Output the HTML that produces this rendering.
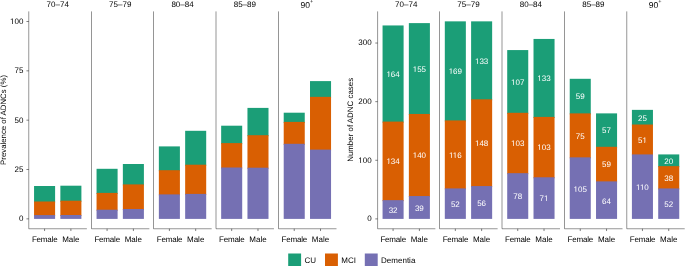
<!DOCTYPE html>
<html><head><meta charset="utf-8"><title>ADNC prevalence and cases by age and sex</title><style>
html,body{margin:0;padding:0;background:#fff;}
body{width:685px;height:267px;overflow:hidden;}
svg{display:block;font-family:"Liberation Sans",sans-serif;will-change:transform;text-rendering:geometricPrecision;}
</style></head><body>
<svg width="685" height="267" viewBox="0 0 685 267">
<rect width="685" height="267" fill="#fff"/>
<line x1="26.45" y1="218.85" x2="28.75" y2="218.85" stroke="#000" stroke-width="0.5"/>
<text x="23.45" y="221.25" text-anchor="end" fill="#000" font-size="8.0">0</text>
<line x1="26.45" y1="169.51" x2="28.75" y2="169.51" stroke="#000" stroke-width="0.5"/>
<text x="23.45" y="171.91" text-anchor="end" fill="#000" font-size="8.0">25</text>
<line x1="26.45" y1="120.17" x2="28.75" y2="120.17" stroke="#000" stroke-width="0.5"/>
<text x="23.45" y="122.58" text-anchor="end" fill="#000" font-size="8.0">50</text>
<line x1="26.45" y1="70.84" x2="28.75" y2="70.84" stroke="#000" stroke-width="0.5"/>
<text x="23.45" y="73.24" text-anchor="end" fill="#000" font-size="8.0">75</text>
<line x1="26.45" y1="21.50" x2="28.75" y2="21.50" stroke="#000" stroke-width="0.5"/>
<text x="23.45" y="23.90" text-anchor="end" fill="#000" font-size="8.0">100</text>
<text x="0" y="0" transform="translate(5.90,119.95) rotate(-90)" text-anchor="middle" fill="#000" font-size="7.82">Prevalence of ADNCs (%)</text>
<rect x="34.06" y="186.00" width="21.04" height="16.50" fill="#1B9E77"/>
<rect x="34.06" y="201.50" width="21.04" height="14.60" fill="#D95F02"/>
<rect x="34.06" y="215.10" width="21.04" height="3.80" fill="#7570B3"/>
<rect x="60.36" y="185.70" width="21.04" height="16.00" fill="#1B9E77"/>
<rect x="60.36" y="200.70" width="21.04" height="15.30" fill="#D95F02"/>
<rect x="60.36" y="215.00" width="21.04" height="3.90" fill="#7570B3"/>
<line x1="28.75" y1="11.40" x2="28.75" y2="228.75" stroke="#000" stroke-width="0.42"/>
<line x1="28.75" y1="228.75" x2="86.86" y2="228.75" stroke="#000" stroke-width="0.42"/>
<line x1="44.58" y1="228.75" x2="44.58" y2="231.05" stroke="#000" stroke-width="0.5"/>
<text x="44.68" y="241.60" text-anchor="middle" fill="#000" font-size="8.0" letter-spacing="-0.2">Female</text>
<line x1="70.88" y1="228.75" x2="70.88" y2="231.05" stroke="#000" stroke-width="0.5"/>
<text x="70.88" y="241.60" text-anchor="middle" fill="#000" font-size="8.0">Male</text>
<text x="57.73" y="7.40" text-anchor="middle" fill="#000" font-size="8.0">70–74</text>
<rect x="96.56" y="168.80" width="21.04" height="25.10" fill="#1B9E77"/>
<rect x="96.56" y="192.90" width="21.04" height="17.80" fill="#D95F02"/>
<rect x="96.56" y="209.70" width="21.04" height="9.20" fill="#7570B3"/>
<rect x="122.86" y="164.00" width="21.04" height="21.40" fill="#1B9E77"/>
<rect x="122.86" y="184.40" width="21.04" height="25.60" fill="#D95F02"/>
<rect x="122.86" y="209.00" width="21.04" height="9.90" fill="#7570B3"/>
<line x1="91.50" y1="11.40" x2="91.50" y2="228.75" stroke="#000" stroke-width="0.42"/>
<line x1="91.50" y1="228.75" x2="149.36" y2="228.75" stroke="#000" stroke-width="0.42"/>
<line x1="107.08" y1="228.75" x2="107.08" y2="231.05" stroke="#000" stroke-width="0.5"/>
<text x="107.18" y="241.60" text-anchor="middle" fill="#000" font-size="8.0" letter-spacing="-0.2">Female</text>
<line x1="133.38" y1="228.75" x2="133.38" y2="231.05" stroke="#000" stroke-width="0.5"/>
<text x="133.38" y="241.60" text-anchor="middle" fill="#000" font-size="8.0">Male</text>
<text x="120.23" y="7.40" text-anchor="middle" fill="#000" font-size="8.0">75–79</text>
<rect x="158.86" y="146.40" width="21.04" height="24.80" fill="#1B9E77"/>
<rect x="158.86" y="170.20" width="21.04" height="25.20" fill="#D95F02"/>
<rect x="158.86" y="194.40" width="21.04" height="24.50" fill="#7570B3"/>
<rect x="185.16" y="130.80" width="21.04" height="34.90" fill="#1B9E77"/>
<rect x="185.16" y="164.70" width="21.04" height="30.20" fill="#D95F02"/>
<rect x="185.16" y="193.90" width="21.04" height="25.00" fill="#7570B3"/>
<line x1="153.50" y1="11.40" x2="153.50" y2="228.75" stroke="#000" stroke-width="0.42"/>
<line x1="153.50" y1="228.75" x2="211.66" y2="228.75" stroke="#000" stroke-width="0.42"/>
<line x1="169.38" y1="228.75" x2="169.38" y2="231.05" stroke="#000" stroke-width="0.5"/>
<text x="169.48" y="241.60" text-anchor="middle" fill="#000" font-size="8.0" letter-spacing="-0.2">Female</text>
<line x1="195.68" y1="228.75" x2="195.68" y2="231.05" stroke="#000" stroke-width="0.5"/>
<text x="195.68" y="241.60" text-anchor="middle" fill="#000" font-size="8.0">Male</text>
<text x="182.53" y="7.40" text-anchor="middle" fill="#000" font-size="8.0">80–84</text>
<rect x="221.16" y="125.70" width="21.04" height="18.40" fill="#1B9E77"/>
<rect x="221.16" y="143.10" width="21.04" height="25.40" fill="#D95F02"/>
<rect x="221.16" y="167.50" width="21.04" height="51.40" fill="#7570B3"/>
<rect x="247.46" y="107.90" width="21.04" height="28.30" fill="#1B9E77"/>
<rect x="247.46" y="135.20" width="21.04" height="33.50" fill="#D95F02"/>
<rect x="247.46" y="167.70" width="21.04" height="51.20" fill="#7570B3"/>
<line x1="216.00" y1="11.40" x2="216.00" y2="228.75" stroke="#000" stroke-width="0.42"/>
<line x1="216.00" y1="228.75" x2="273.96" y2="228.75" stroke="#000" stroke-width="0.42"/>
<line x1="231.68" y1="228.75" x2="231.68" y2="231.05" stroke="#000" stroke-width="0.5"/>
<text x="231.78" y="241.60" text-anchor="middle" fill="#000" font-size="8.0" letter-spacing="-0.2">Female</text>
<line x1="257.98" y1="228.75" x2="257.98" y2="231.05" stroke="#000" stroke-width="0.5"/>
<text x="257.98" y="241.60" text-anchor="middle" fill="#000" font-size="8.0">Male</text>
<text x="244.83" y="7.40" text-anchor="middle" fill="#000" font-size="8.0">85–89</text>
<rect x="283.71" y="112.70" width="21.04" height="10.20" fill="#1B9E77"/>
<rect x="283.71" y="121.90" width="21.04" height="22.90" fill="#D95F02"/>
<rect x="283.71" y="143.80" width="21.04" height="75.10" fill="#7570B3"/>
<rect x="310.01" y="81.10" width="21.04" height="16.75" fill="#1B9E77"/>
<rect x="310.01" y="96.85" width="21.04" height="53.75" fill="#D95F02"/>
<rect x="310.01" y="149.60" width="21.04" height="69.30" fill="#7570B3"/>
<line x1="278.50" y1="11.40" x2="278.50" y2="228.75" stroke="#000" stroke-width="0.42"/>
<line x1="278.50" y1="228.75" x2="336.51" y2="228.75" stroke="#000" stroke-width="0.42"/>
<line x1="294.23" y1="228.75" x2="294.23" y2="231.05" stroke="#000" stroke-width="0.5"/>
<text x="294.33" y="241.60" text-anchor="middle" fill="#000" font-size="8.0" letter-spacing="-0.2">Female</text>
<line x1="320.53" y1="228.75" x2="320.53" y2="231.05" stroke="#000" stroke-width="0.5"/>
<text x="320.53" y="241.60" text-anchor="middle" fill="#000" font-size="8.0">Male</text>
<text x="300.48" y="7.60" fill="#000" font-size="8.5">90</text>
<text x="309.98" y="3.00" fill="#000" font-size="5.6">+</text>
<line x1="375.30" y1="218.90" x2="377.60" y2="218.90" stroke="#000" stroke-width="0.5"/>
<text x="371.70" y="221.30" text-anchor="end" fill="#000" font-size="8.0">0</text>
<line x1="375.30" y1="160.28" x2="377.60" y2="160.28" stroke="#000" stroke-width="0.5"/>
<text x="371.70" y="162.68" text-anchor="end" fill="#000" font-size="8.0">100</text>
<line x1="375.30" y1="101.66" x2="377.60" y2="101.66" stroke="#000" stroke-width="0.5"/>
<text x="371.70" y="104.06" text-anchor="end" fill="#000" font-size="8.0">200</text>
<line x1="375.30" y1="43.04" x2="377.60" y2="43.04" stroke="#000" stroke-width="0.5"/>
<text x="371.70" y="45.44" text-anchor="end" fill="#000" font-size="8.0">300</text>
<text x="0" y="0" transform="translate(352.60,119.85) rotate(-90)" text-anchor="middle" fill="#000" font-size="7.92">Number of ADNC cases</text>
<rect x="382.56" y="25.45" width="21.04" height="97.14" fill="#1B9E77"/>
<rect x="382.56" y="121.59" width="21.04" height="79.55" fill="#D95F02"/>
<rect x="382.56" y="200.14" width="21.04" height="18.76" fill="#7570B3"/>
<rect x="408.86" y="23.11" width="21.04" height="91.86" fill="#1B9E77"/>
<rect x="408.86" y="113.97" width="21.04" height="83.07" fill="#D95F02"/>
<rect x="408.86" y="196.04" width="21.04" height="22.86" fill="#7570B3"/>
<line x1="377.60" y1="11.40" x2="377.60" y2="228.75" stroke="#000" stroke-width="0.42"/>
<line x1="377.60" y1="228.75" x2="435.36" y2="228.75" stroke="#000" stroke-width="0.42"/>
<line x1="393.08" y1="228.75" x2="393.08" y2="231.05" stroke="#000" stroke-width="0.5"/>
<text x="393.18" y="241.60" text-anchor="middle" fill="#000" font-size="8.0" letter-spacing="-0.2">Female</text>
<line x1="419.38" y1="228.75" x2="419.38" y2="231.05" stroke="#000" stroke-width="0.5"/>
<text x="419.38" y="241.60" text-anchor="middle" fill="#000" font-size="8.0">Male</text>
<text x="406.23" y="7.40" text-anchor="middle" fill="#000" font-size="8.0">70–74</text>
<rect x="444.81" y="21.35" width="21.04" height="100.07" fill="#1B9E77"/>
<rect x="444.81" y="120.42" width="21.04" height="69.00" fill="#D95F02"/>
<rect x="444.81" y="188.42" width="21.04" height="30.48" fill="#7570B3"/>
<rect x="471.11" y="21.35" width="21.04" height="78.96" fill="#1B9E77"/>
<rect x="471.11" y="99.32" width="21.04" height="87.76" fill="#D95F02"/>
<rect x="471.11" y="186.07" width="21.04" height="32.83" fill="#7570B3"/>
<line x1="439.50" y1="11.40" x2="439.50" y2="228.75" stroke="#000" stroke-width="0.42"/>
<line x1="439.50" y1="228.75" x2="497.61" y2="228.75" stroke="#000" stroke-width="0.42"/>
<line x1="455.33" y1="228.75" x2="455.33" y2="231.05" stroke="#000" stroke-width="0.5"/>
<text x="455.43" y="241.60" text-anchor="middle" fill="#000" font-size="8.0" letter-spacing="-0.2">Female</text>
<line x1="481.63" y1="228.75" x2="481.63" y2="231.05" stroke="#000" stroke-width="0.5"/>
<text x="481.63" y="241.60" text-anchor="middle" fill="#000" font-size="8.0">Male</text>
<text x="468.48" y="7.40" text-anchor="middle" fill="#000" font-size="8.0">75–79</text>
<rect x="507.21" y="50.07" width="21.04" height="63.72" fill="#1B9E77"/>
<rect x="507.21" y="112.80" width="21.04" height="61.38" fill="#D95F02"/>
<rect x="507.21" y="173.18" width="21.04" height="45.72" fill="#7570B3"/>
<rect x="533.51" y="38.94" width="21.04" height="78.96" fill="#1B9E77"/>
<rect x="533.51" y="116.90" width="21.04" height="61.38" fill="#D95F02"/>
<rect x="533.51" y="177.28" width="21.04" height="41.62" fill="#7570B3"/>
<line x1="502.00" y1="11.40" x2="502.00" y2="228.75" stroke="#000" stroke-width="0.42"/>
<line x1="502.00" y1="228.75" x2="560.01" y2="228.75" stroke="#000" stroke-width="0.42"/>
<line x1="517.73" y1="228.75" x2="517.73" y2="231.05" stroke="#000" stroke-width="0.5"/>
<text x="517.83" y="241.60" text-anchor="middle" fill="#000" font-size="8.0" letter-spacing="-0.2">Female</text>
<line x1="544.03" y1="228.75" x2="544.03" y2="231.05" stroke="#000" stroke-width="0.5"/>
<text x="544.03" y="241.60" text-anchor="middle" fill="#000" font-size="8.0">Male</text>
<text x="530.88" y="7.40" text-anchor="middle" fill="#000" font-size="8.0">80–84</text>
<rect x="569.73" y="78.80" width="21.04" height="35.59" fill="#1B9E77"/>
<rect x="569.73" y="113.38" width="21.04" height="44.96" fill="#D95F02"/>
<rect x="569.73" y="157.35" width="21.04" height="61.55" fill="#7570B3"/>
<rect x="596.03" y="113.38" width="21.04" height="34.41" fill="#1B9E77"/>
<rect x="596.03" y="146.80" width="21.04" height="35.59" fill="#D95F02"/>
<rect x="596.03" y="181.38" width="21.04" height="37.52" fill="#7570B3"/>
<line x1="564.50" y1="11.40" x2="564.50" y2="228.75" stroke="#000" stroke-width="0.42"/>
<line x1="564.50" y1="228.75" x2="622.53" y2="228.75" stroke="#000" stroke-width="0.42"/>
<line x1="580.25" y1="228.75" x2="580.25" y2="231.05" stroke="#000" stroke-width="0.5"/>
<text x="580.35" y="241.60" text-anchor="middle" fill="#000" font-size="8.0" letter-spacing="-0.2">Female</text>
<line x1="606.55" y1="228.75" x2="606.55" y2="231.05" stroke="#000" stroke-width="0.5"/>
<text x="606.55" y="241.60" text-anchor="middle" fill="#000" font-size="8.0">Male</text>
<text x="593.40" y="7.40" text-anchor="middle" fill="#000" font-size="8.0">85–89</text>
<rect x="631.91" y="109.87" width="21.04" height="15.66" fill="#1B9E77"/>
<rect x="631.91" y="124.52" width="21.04" height="30.90" fill="#D95F02"/>
<rect x="631.91" y="154.42" width="21.04" height="64.48" fill="#7570B3"/>
<rect x="658.21" y="154.42" width="21.04" height="12.72" fill="#1B9E77"/>
<rect x="658.21" y="166.14" width="21.04" height="23.28" fill="#D95F02"/>
<rect x="658.21" y="188.42" width="21.04" height="30.48" fill="#7570B3"/>
<line x1="626.75" y1="11.40" x2="626.75" y2="228.75" stroke="#000" stroke-width="0.42"/>
<line x1="626.75" y1="228.75" x2="684.71" y2="228.75" stroke="#000" stroke-width="0.42"/>
<line x1="642.43" y1="228.75" x2="642.43" y2="231.05" stroke="#000" stroke-width="0.5"/>
<text x="642.53" y="241.60" text-anchor="middle" fill="#000" font-size="8.0" letter-spacing="-0.2">Female</text>
<line x1="668.73" y1="228.75" x2="668.73" y2="231.05" stroke="#000" stroke-width="0.5"/>
<text x="668.73" y="241.60" text-anchor="middle" fill="#000" font-size="8.0">Male</text>
<text x="648.68" y="7.60" fill="#000" font-size="8.5">90</text>
<text x="658.18" y="3.00" fill="#000" font-size="5.6">+</text>
<text x="393.08" y="212.92" text-anchor="middle" fill="#fff" font-size="8.0">32</text>
<text x="393.08" y="164.27" text-anchor="middle" fill="#fff" font-size="8.0">134</text>
<text x="393.08" y="76.92" text-anchor="middle" fill="#fff" font-size="8.0">164</text>
<text x="419.38" y="210.87" text-anchor="middle" fill="#fff" font-size="8.0">39</text>
<text x="419.38" y="158.40" text-anchor="middle" fill="#fff" font-size="8.0">140</text>
<text x="419.38" y="71.94" text-anchor="middle" fill="#fff" font-size="8.0">155</text>
<text x="455.33" y="207.06" text-anchor="middle" fill="#fff" font-size="8.0">52</text>
<text x="455.33" y="157.82" text-anchor="middle" fill="#fff" font-size="8.0">116</text>
<text x="455.33" y="74.28" text-anchor="middle" fill="#fff" font-size="8.0">169</text>
<text x="481.63" y="205.89" text-anchor="middle" fill="#fff" font-size="8.0">56</text>
<text x="481.63" y="146.09" text-anchor="middle" fill="#fff" font-size="8.0">148</text>
<text x="481.63" y="63.73" text-anchor="middle" fill="#fff" font-size="8.0">133</text>
<text x="517.73" y="199.44" text-anchor="middle" fill="#fff" font-size="8.0">78</text>
<text x="517.73" y="146.39" text-anchor="middle" fill="#fff" font-size="8.0">103</text>
<text x="517.73" y="84.84" text-anchor="middle" fill="#fff" font-size="8.0">107</text>
<text x="544.03" y="201.49" text-anchor="middle" fill="#fff" font-size="8.0">71</text>
<text x="544.03" y="150.49" text-anchor="middle" fill="#fff" font-size="8.0">103</text>
<text x="544.03" y="81.32" text-anchor="middle" fill="#fff" font-size="8.0">133</text>
<text x="580.25" y="191.52" text-anchor="middle" fill="#fff" font-size="8.0">105</text>
<text x="580.25" y="138.77" text-anchor="middle" fill="#fff" font-size="8.0">75</text>
<text x="580.25" y="99.49" text-anchor="middle" fill="#fff" font-size="8.0">59</text>
<text x="606.55" y="203.54" text-anchor="middle" fill="#fff" font-size="8.0">64</text>
<text x="606.55" y="167.49" text-anchor="middle" fill="#fff" font-size="8.0">59</text>
<text x="606.55" y="133.49" text-anchor="middle" fill="#fff" font-size="8.0">57</text>
<text x="642.43" y="190.06" text-anchor="middle" fill="#fff" font-size="8.0">110</text>
<text x="642.43" y="142.87" text-anchor="middle" fill="#fff" font-size="8.0">51</text>
<text x="642.43" y="120.59" text-anchor="middle" fill="#fff" font-size="8.0">25</text>
<text x="668.73" y="207.06" text-anchor="middle" fill="#fff" font-size="8.0">52</text>
<text x="668.73" y="180.68" text-anchor="middle" fill="#fff" font-size="8.0">38</text>
<text x="668.73" y="163.68" text-anchor="middle" fill="#fff" font-size="8.0">20</text>
<rect x="288.20" y="253.50" width="12.90" height="12.50" fill="#1B9E77"/>
<text x="304.50" y="262.60" fill="#000" font-size="8.0">CU</text>
<rect x="325.00" y="253.50" width="12.90" height="12.50" fill="#D95F02"/>
<text x="341.30" y="262.60" fill="#000" font-size="8.0">MCI</text>
<rect x="364.80" y="253.50" width="12.90" height="12.50" fill="#7570B3"/>
<text x="381.10" y="262.60" fill="#000" font-size="8.0">Dementia</text>
<g><rect x="10.177" y="23" width="4.346" height="1" fill="#fff"/><rect x="12.102" y="23" width="0.707" height="1" fill="#000"/><rect x="358.427" y="162" width="4.346" height="1" fill="#fff"/><rect x="360.352" y="162" width="0.707" height="1" fill="#000"/><rect x="386.486" y="163" width="4.346" height="1" fill="#D95F02"/><rect x="388.412" y="163" width="0.707" height="1" fill="#fff"/><rect x="386.486" y="76" width="4.346" height="1" fill="#1B9E77"/><rect x="388.412" y="76" width="0.707" height="1" fill="#fff"/><rect x="412.786" y="157" width="4.346" height="1" fill="#D95F02"/><rect x="414.712" y="157" width="0.707" height="1" fill="#fff"/><rect x="412.786" y="71" width="4.346" height="1" fill="#1B9E77"/><rect x="414.712" y="71" width="0.707" height="1" fill="#fff"/><rect x="449.033" y="157" width="4.346" height="1" fill="#D95F02"/><rect x="450.959" y="157" width="0.707" height="1" fill="#fff"/><rect x="452.877" y="157" width="4.346" height="1" fill="#D95F02"/><rect x="454.803" y="157" width="0.707" height="1" fill="#fff"/><rect x="448.736" y="73" width="4.346" height="1" fill="#1B9E77"/><rect x="450.662" y="73" width="0.707" height="1" fill="#fff"/><rect x="475.036" y="145" width="4.346" height="1" fill="#D95F02"/><rect x="476.962" y="145" width="0.707" height="1" fill="#fff"/><rect x="475.036" y="63" width="4.346" height="1" fill="#1B9E77"/><rect x="476.962" y="63" width="0.707" height="1" fill="#fff"/><rect x="511.136" y="145" width="4.346" height="1" fill="#D95F02"/><rect x="513.062" y="145" width="0.707" height="1" fill="#fff"/><rect x="511.136" y="84" width="4.346" height="1" fill="#1B9E77"/><rect x="513.062" y="84" width="0.707" height="1" fill="#fff"/><rect x="544.100" y="200" width="4.346" height="1" fill="#7570B3"/><rect x="546.026" y="200" width="0.707" height="1" fill="#fff"/><rect x="537.436" y="149" width="4.346" height="1" fill="#D95F02"/><rect x="539.362" y="149" width="0.707" height="1" fill="#fff"/><rect x="537.436" y="80" width="4.346" height="1" fill="#1B9E77"/><rect x="539.362" y="80" width="0.707" height="1" fill="#fff"/><rect x="573.656" y="191" width="4.346" height="1" fill="#7570B3"/><rect x="575.582" y="191" width="0.707" height="1" fill="#fff"/><rect x="636.133" y="189" width="4.346" height="1" fill="#7570B3"/><rect x="638.059" y="189" width="0.707" height="1" fill="#fff"/><rect x="639.977" y="189" width="4.346" height="1" fill="#7570B3"/><rect x="641.903" y="189" width="0.707" height="1" fill="#fff"/><rect x="642.500" y="142" width="4.346" height="1" fill="#D95F02"/><rect x="644.426" y="142" width="0.707" height="1" fill="#fff"/></g>
</svg>
</body></html>
